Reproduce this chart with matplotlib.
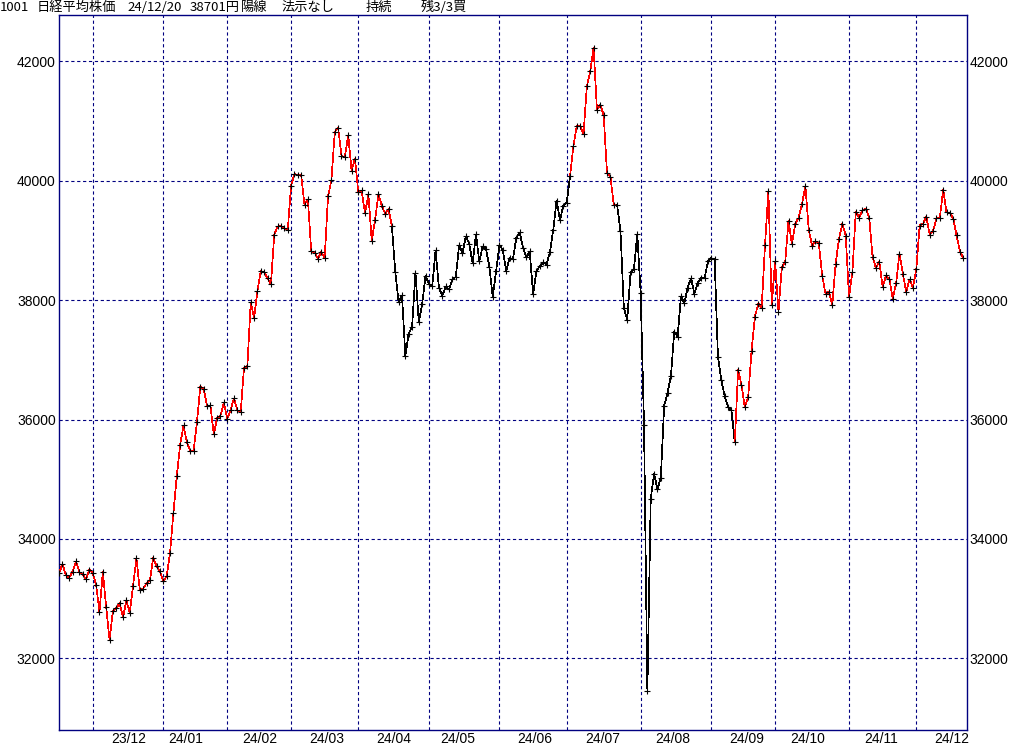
import matplotlib
matplotlib.use('Agg')
import matplotlib.pyplot as plt
from matplotlib import font_manager
import numpy as np
import pandas as pd

# Nikkei 225 daily closes, 2023-11-16 .. 2024-12-20 (one list per month)
nov23 = [33424, 33585, 33388, 33354, 33452, 33625, 33447, 33408, 33321, 33486]
dec23 = [33431, 33231, 32776, 33446, 32858, 32307, 32792, 32844, 32926, 32686, 32970,
         32759, 33220, 33675, 33141, 33169, 33255, 33306, 33681, 33540, 33464]
jan24 = [33288, 33377, 33763, 34441, 35049, 35577, 35901, 35620, 35478, 35466, 35963,
         36546, 36518, 36226, 36237, 35751, 36027, 36066, 36287]
feb24 = [36011, 36158, 36354, 36160, 36119, 36863, 36897, 37963, 37703, 38157, 38487,
         38470, 38364, 38262, 39098, 39234, 39240, 39208, 39166]
mar24 = [39911, 40110, 40098, 40091, 39599, 39689, 38820, 38797, 38696, 38807, 38708,
         39740, 40004, 40816, 40888, 40415, 40398, 40763, 40168, 40369]
apr24 = [39803, 39838, 39451, 39773, 38992, 39347, 39773, 39582, 39443, 39524, 39233,
         38471, 37962, 38080, 37068, 37439, 37552, 38460, 37628, 37934, 38406]
may24 = [38274, 38236, 38835, 38202, 38074, 38229, 38179, 38356, 38386, 38920, 38787,
         39070, 38947, 38617, 39103, 38647, 38900, 38856, 38557, 38054, 38488]
jun24 = [38923, 38837, 38491, 38703, 38684, 39039, 39135, 38877, 38720, 38815, 38102,
         38482, 38570, 38634, 38596, 38805, 39174, 39667, 39342, 39583]
jul24 = [39631, 40074, 40581, 40914, 40913, 40781, 41580, 41832, 42224, 41191, 41275,
         41098, 40126, 40064, 39599, 39594, 39155, 37870, 37667, 38469, 38526, 39102]
aug24 = [38126, 35910, 31458, 34675, 35090, 34831, 35025, 36233, 36443, 36727, 37470,
         37389, 38063, 37951, 38211, 38364, 38110, 38289, 38372, 38363, 38648]
sep24 = [38701, 38686, 37048, 36658, 36392, 36216, 36159, 35620, 36833, 36582, 36203,
         36380, 37155, 37724, 37941, 37870, 38926, 39830, 37920]
oct24 = [38652, 37809, 38552, 38636, 39333, 38938, 39278, 39381, 39606, 39911, 39181,
         38911, 38982, 38955, 38412, 38105, 38143, 37914, 38606, 39028, 39277, 39081]
nov24 = [38054, 38475, 39481, 39382, 39501, 39534, 39377, 38722, 38536, 38643, 38221,
         38415, 38352, 38026, 38284, 38780, 38443, 38135, 38350, 38208]
dec24 = [38513, 39249, 39277, 39396, 39091, 39161, 39368, 39373, 39850, 39470, 39458,
         39365, 39082, 38814, 38701]

# Tokyo market holidays inside the range
holidays = ['2023-11-23', '2024-01-01', '2024-01-02', '2024-01-03', '2024-01-08',
            '2024-02-12', '2024-02-23', '2024-03-20', '2024-04-29', '2024-05-03',
            '2024-05-06', '2024-07-15', '2024-08-12', '2024-09-16', '2024-09-23',
            '2024-10-14', '2024-11-04']

# line colour switches (date from which the segment colour applies)
switch_dates = ['2024-04-16', '2024-07-03', '2024-07-24', '2024-09-12']
switch_colors = ['black', 'red', 'black', 'red']
start_color = 'red'

title_parts = ['1001', '日経平均株価', '24/12/20', '38701円', '陽線', '法示なし', '持続', '残3/3買']
title_px = [0, 37, 127, 190, 241, 282, 366, 421]

y_ticks = [32000, 34000, 36000, 38000, 40000, 42000]

closes = np.array(nov23 + dec23 + jan24 + feb24 + mar24 + apr24 + may24 + jun24 +
                  jul24 + aug24 + sep24 + oct24 + nov24 + dec24, dtype=float)
dates = pd.bdate_range('2023-11-16', '2024-12-20')
dates = dates[~dates.isin(pd.to_datetime(holidays))]
assert len(dates) == len(closes)
x = np.arange(len(closes))

# colour of each point's incoming segment
colors = np.array([start_color] * len(closes), dtype=object)
for d, c in zip(switch_dates, switch_colors):
    colors[dates >= pd.Timestamp(d)] = c

# month boundaries and mid-month label positions
months = dates.to_period('M')
month_starts = [i for i in range(1, len(dates)) if months[i] != months[i - 1]]
label_pos, label_txt = [], []
for m in months.unique()[1:]:
    idx = [i for i in range(len(dates)) if months[i] == m and dates[i].day >= 15]
    label_pos.append(idx[0] + 0.6)
    label_txt.append(m.strftime('%y/%m'))

installed = {f.name for f in font_manager.fontManager.ttflist}
num_font = 'Liberation Sans Narrow' if 'Liberation Sans Narrow' in installed else 'Liberation Sans'

fig = plt.figure(figsize=(10.24, 7.45), dpi=100)
W, H = 1024, 745
ax = fig.add_axes([58.8 / W, (H - 730) / H, (966.7 - 58.8) / W, (730 - 14.7) / H])

navy = '#000080'
dash = (0, (2.9, 2.4))

# red / black segments
for i in range(1, len(closes)):
    ax.plot(x[i - 1:i + 1], closes[i - 1:i + 1], color=colors[i], lw=0.5,
            antialiased=False, solid_capstyle='butt', zorder=3)
ax.plot(x, closes, ls='none', marker='+', ms=3.8, mew=0.8, color='black',
        antialiased=False, zorder=4)

ax.set_xlim(-0.1, len(closes))
ax.set_ylim(30800, 42780)

ax.set_yticks(y_ticks)
ax.set_yticklabels([str(v) for v in y_ticks])
ax.set_xticks(month_starts, minor=True)
ax.set_xticks(label_pos)
ax.set_xticklabels(label_txt)

ax.grid(which='major', axis='y', color=navy, lw=0.8, linestyle=dash)
ax.grid(which='minor', axis='x', color=navy, lw=0.8, linestyle=dash)
ax.grid(which='major', axis='x', visible=False)

ax.tick_params(axis='y', which='both', length=0, labelleft=True, labelright=True, pad=2.2)
ax.tick_params(axis='x', which='both', length=0, pad=1.2)
for lab in ax.get_xticklabels() + ax.get_yticklabels():
    lab.set_fontfamily(num_font)
    lab.set_fontsize(10)
    lab.set_color('black')

for s in ax.spines.values():
    s.set_color(navy)
    s.set_linewidth(1.0)

for txt, px in zip(title_parts, title_px):
    fig.text(px / W, 1 - 7.5 / H, txt, ha='left', va='center', fontsize=9.5,
             family=['Noto Sans CJK JP', 'DejaVu Sans'])

fig.savefig('out.png', dpi=100, facecolor='white')
